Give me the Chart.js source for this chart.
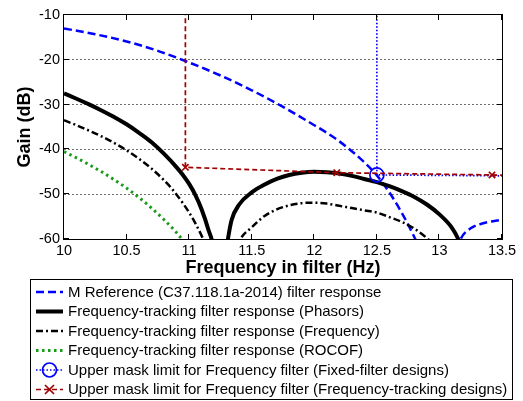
<!DOCTYPE html>
<html>
<head>
<meta charset="utf-8">
<title>Filter gain</title>
<script src="https://cdn.jsdelivr.net/npm/chart.js@4.4.1/dist/chart.umd.min.js"></script>
<style>
  html, body { margin: 0; padding: 0; background: #fff; }
  #wrap { width: 523px; height: 401px; }
</style>
</head>
<body>
<div id="wrap"><canvas id="gainChart" width="523" height="401"></canvas></div>
<script>
// =============================
// DATA (frequency in Hz, gain in dB)
// =============================
const refFreq = [10.0, 10.25, 10.5, 10.75, 11.0, 11.25, 11.5, 11.75, 12.0, 12.1, 12.2, 12.3, 12.4, 12.5, 12.6, 12.7, 12.8, 12.9, 13.0, 13.1, 13.17, 13.25, 13.35, 13.5];
const refGain = [-13.0, -14.3, -15.9, -18.0, -20.6, -23.5, -26.8, -30.5, -34.6, -36.3, -38.2, -40.4, -42.9, -45.8, -49.6, -54.2, -59.6, -66.0, -80.0, -66.0, -60.0, -57.6, -56.5, -55.7];

const phasorFreq = [10.0, 10.1, 10.2, 10.3, 10.4, 10.5, 10.6, 10.7, 10.8, 10.9, 10.95, 11.0, 11.05, 11.1, 11.15, 11.2, 11.24, 11.28, 11.31, 11.34, 11.4, 11.5, 11.6, 11.7, 11.8, 11.9, 12.0, 12.1, 12.2, 12.3, 12.4, 12.5, 12.6, 12.7, 12.8, 12.9, 13.0, 13.1, 13.15, 13.2, 13.3];
const phasorGain = [-27.5, -28.7, -29.95, -31.3, -32.75, -34.4, -36.3, -38.4, -41.0, -44.0, -45.7, -47.7, -50.2, -53.4, -57.6, -63.5, -80.0, -66.0, -60.0, -55.7, -52.3, -49.6, -47.9, -46.6, -45.7, -45.2, -45.0, -45.1, -45.4, -45.9, -46.6, -47.3, -48.2, -49.3, -50.6, -52.3, -54.5, -57.5, -60.0, -64.0, -78.0];

const freqFreq = [10.0, 10.1, 10.2, 10.3, 10.4, 10.5, 10.6, 10.7, 10.8, 10.85, 10.9, 10.95, 11.0, 11.05, 11.1, 11.15, 11.25, 11.35, 11.41, 11.5, 11.6, 11.7, 11.8, 11.9, 12.0, 12.1, 12.2, 12.3, 12.4, 12.5, 12.6, 12.7, 12.8, 12.9, 13.0, 13.1];
const freqGain = [-33.5, -34.6, -35.8, -37.1, -38.55, -40.2, -42.1, -44.3, -46.9, -48.4, -50.1, -52.0, -54.1, -56.5, -59.3, -62.5, -80.0, -64.0, -60.0, -57.4, -54.9, -53.4, -52.5, -52.0, -51.9, -52.1, -52.6, -53.1, -53.6, -54.1, -55.1, -56.2, -57.7, -59.8, -62.5, -67.0];

const rocofFreq = [10.0, 10.1, 10.2, 10.3, 10.4, 10.5, 10.6, 10.7, 10.8, 10.9, 10.95, 11.0, 11.1];
const rocofGain = [-40.5, -41.9, -43.4, -45.0, -46.75, -48.65, -50.75, -53.1, -55.7, -58.6, -60.3, -62.2, -66.5];

// mask limits: vertical edge from above the plot, then the upper limit
const fixedMaskFreq = [12.5, 12.5, 13.5];
const fixedMaskGain = [0, -45.7, -45.9];
const fixedMaskMarks = [1];

const trackMaskFreq = [10.97, 10.97, 12.18, 13.42, 13.5];
const trackMaskGain = [0, -44.0, -45.2, -45.7, -45.75];
const trackMaskMarks = [1, 2, 3];

const xTicks = [10, 10.5, 11, 11.5, 12, 12.5, 13, 13.5];
const yTicks = [-60, -50, -40, -30, -20, -10];

const seriesLabels = [
  'M Reference (C37.118.1a-2014) filter response',
  'Frequency-tracking filter response (Phasors)',
  'Frequency-tracking filter response (Frequency)',
  'Frequency-tracking filter response (ROCOF)',
  'Upper mask limit for Frequency filter (Fixed-filter designs)',
  'Upper mask limit for Frequency filter (Frequency-tracking designs)'
];

const FONT = "'Liberation Sans', Arial, sans-serif";

function toPoints(xs, ys) {
  return xs.map((x, i) => ({ x, y: ys[i] }));
}

// =============================
// PLUGINS
// =============================

// box around the axes with inward tick marks (matlab style)
const axesBox = {
  id: 'axesBox',
  afterDatasetsDraw(chart) {
    const { ctx, chartArea: a } = chart;
    const sx = chart.scales.x, sy = chart.scales.y;
    const t = 5;
    ctx.save();
    ctx.strokeStyle = '#000';
    ctx.lineWidth = 1;
    ctx.setLineDash([]);
    ctx.strokeRect(a.left - 0.5, a.top - 0.5, a.right - a.left + 1, a.bottom - a.top + 1);
    ctx.beginPath();
    xTicks.forEach(v => {
      const px = Math.round(sx.getPixelForValue(v)) - 0.5;
      ctx.moveTo(px, a.bottom); ctx.lineTo(px, a.bottom - t);
      ctx.moveTo(px, a.top); ctx.lineTo(px, a.top + t);
    });
    yTicks.forEach(v => {
      const py = Math.round(sy.getPixelForValue(v)) - 0.5;
      ctx.moveTo(a.left, py); ctx.lineTo(a.left + t, py);
      ctx.moveTo(a.right, py); ctx.lineTo(a.right - t, py);
    });
    ctx.stroke();
    ctx.restore();
  }
};

function drawMarker(ctx, style, r, x, y) {
  ctx.beginPath();
  if (style === 'circle') {
    ctx.arc(x, y, r, 0, Math.PI * 2);
  } else {
    ctx.moveTo(x - r, y - r); ctx.lineTo(x + r, y + r);
    ctx.moveTo(x - r, y + r); ctx.lineTo(x + r, y - r);
  }
  ctx.stroke();
}

// legend in a box under the x axis, one row per series
const boxLegend = {
  id: 'boxLegend',
  afterDraw(chart) {
    const ctx = chart.ctx;
    const left = 30, top = 279, w = 482, h = 120;
    ctx.save();
    ctx.fillStyle = '#fff';
    ctx.fillRect(left, top, w, h);
    ctx.strokeStyle = '#000';
    ctx.lineWidth = 1;
    ctx.setLineDash([]);
    ctx.strokeRect(left + 0.5, top + 0.5, w, h);

    chart.data.datasets.forEach((ds, i) => {
      const yy = top + 13 + i * 19.5;
      ctx.strokeStyle = ds.borderColor;
      ctx.lineWidth = ds.borderWidth;
      ctx.setLineDash(ds.borderDash || []);
      ctx.beginPath();
      ctx.moveTo(36, yy);
      ctx.lineTo(63, yy);
      ctx.stroke();
      if (ds.markRadius) {
        ctx.setLineDash([]);
        ctx.lineWidth = ds.pointBorderWidth;
        drawMarker(ctx, ds.pointStyle, ds.markRadius, 49.5, yy);
      }
      ctx.fillStyle = '#000';
      ctx.font = '15px ' + FONT;
      ctx.textBaseline = 'middle';
      ctx.fillText(ds.label, 68, yy + 0.5);
    });
    ctx.restore();
  }
};

// =============================
// CHART
// =============================
function lineSet(label, xs, ys, color, width, dash, order) {
  return {
    label,
    data: toPoints(xs, ys),
    borderColor: color,
    backgroundColor: color,
    borderWidth: width,
    borderDash: dash,
    pointRadius: 0,
    cubicInterpolationMode: 'monotone',
    clip: 0,
    order
  };
}

function maskSet(label, xs, ys, marks, color, dash, style, r, order) {
  return {
    label,
    data: toPoints(xs, ys),
    borderColor: color,
    backgroundColor: 'rgba(0,0,0,0)',
    borderWidth: 1.7,
    borderDash: dash,
    pointStyle: style,
    pointRadius: ctx => marks.includes(ctx.dataIndex) ? r : 0,
    pointBorderColor: color,
    pointBackgroundColor: 'rgba(0,0,0,0)',
    pointBorderWidth: 1.7,
    markRadius: r,
    tension: 0,
    clip: 0,
    order
  };
}

const tickFont = { family: FONT, size: 14.5 };
const titleFont = { family: FONT, size: 18, weight: 'bold' };

new Chart(document.getElementById('gainChart'), {
  type: 'line',
  data: {
    datasets: [
      lineSet(seriesLabels[0], refFreq, refGain, '#0000ff', 2.5, [8, 4], 6),
      lineSet(seriesLabels[1], phasorFreq, phasorGain, '#000000', 4, [], 5),
      lineSet(seriesLabels[2], freqFreq, freqGain, '#000000', 2.5, [7, 3, 2, 3], 4),
      lineSet(seriesLabels[3], rocofFreq, rocofGain, '#1a9a1a', 3, [2.5, 3.5], 3),
      maskSet(seriesLabels[4], fixedMaskFreq, fixedMaskGain, fixedMaskMarks, '#0000ff', [1.5, 2], 'circle', 7, 2),
      maskSet(seriesLabels[5], trackMaskFreq, trackMaskGain, trackMaskMarks, '#a00000', [5, 3], 'crossRot', 4.5, 1)
    ]
  },
  options: {
    responsive: false,
    animation: false,
    events: [],
    layout: { padding: { left: 4, top: 15, right: 21, bottom: 122 } },
    plugins: {
      legend: { display: false },
      tooltip: { enabled: false }
    },
    scales: {
      x: {
        type: 'linear',
        min: 10,
        max: 13.5,
        afterFit: s => { s.height = 40; },
        afterBuildTicks: s => { s.ticks = xTicks.map(v => ({ value: v })); },
        ticks: { color: '#000', font: tickFont, padding: 3, maxRotation: 0, callback: v => String(v) },
        grid: { display: false, drawTicks: false },
        border: { display: false },
        title: { display: true, text: 'Frequency in filter (Hz)', color: '#000', font: titleFont, padding: { top: 0, bottom: 0 } }
      },
      y: {
        type: 'linear',
        min: -60,
        max: -10,
        afterFit: s => { s.width = 60; },
        afterBuildTicks: s => { s.ticks = yTicks.map(v => ({ value: v })); },
        ticks: { color: '#000', font: tickFont, padding: 4, callback: v => String(v) },
        grid: {
          drawTicks: false,
          lineWidth: 1,
          color: c => (c.tick && (c.tick.value === -10 || c.tick.value === -60)) ? 'rgba(0,0,0,0)' : '#6e6e6e'
        },
        border: { display: false, dash: [2, 2] },
        title: { display: true, text: 'Gain (dB)', color: '#000', font: titleFont, padding: { top: 10, bottom: 0 } }
      }
    }
  },
  plugins: [axesBox, boxLegend]
});
</script>
</body>
</html>
